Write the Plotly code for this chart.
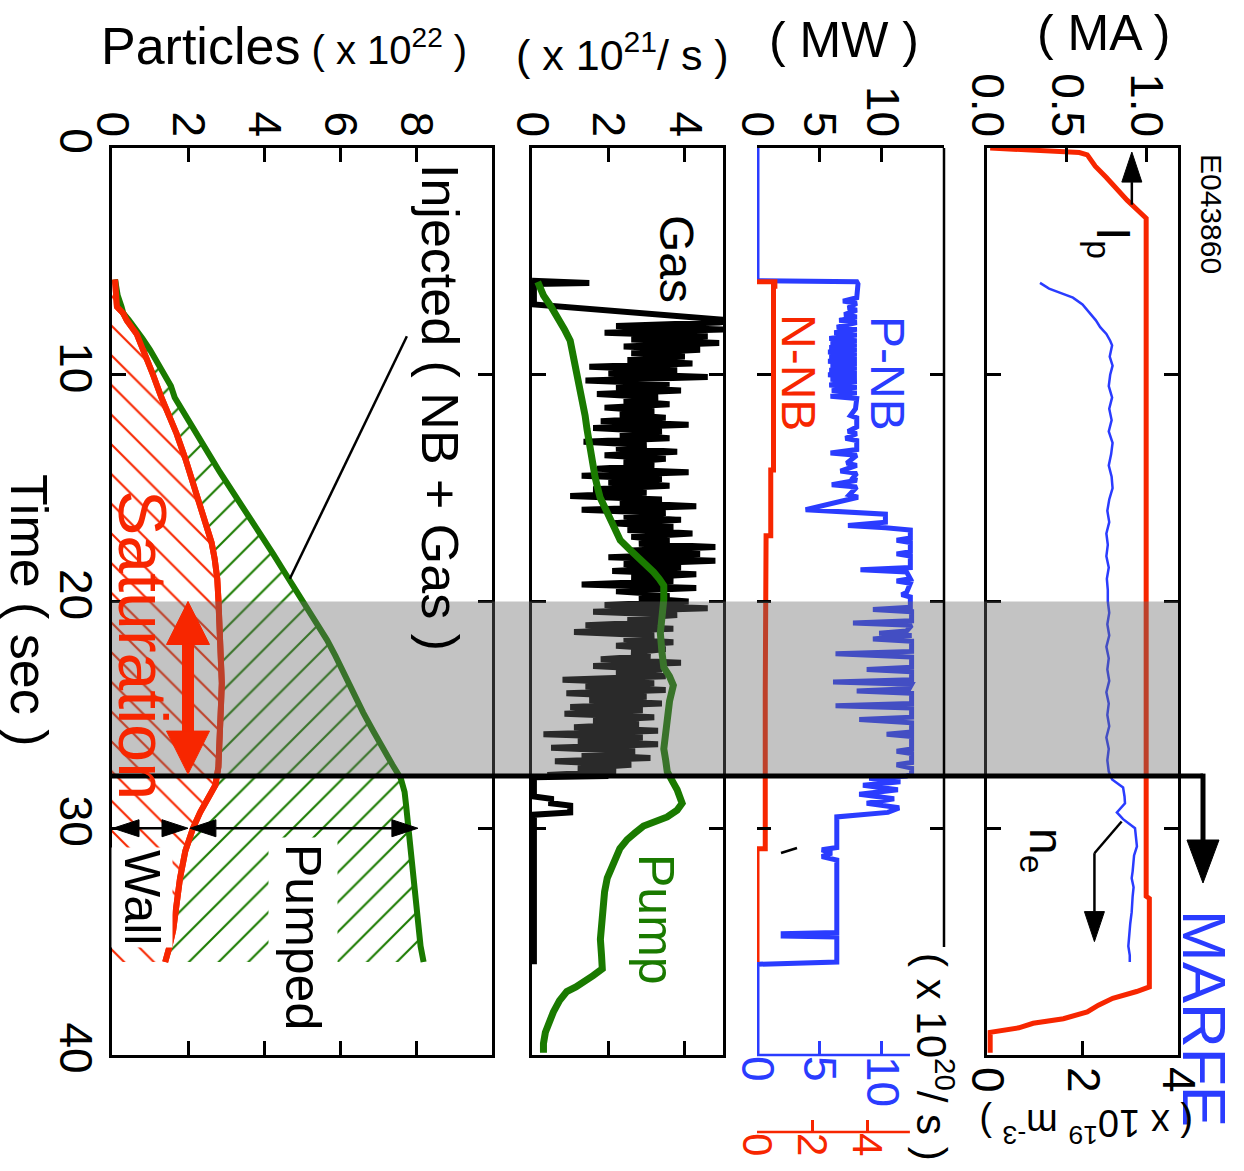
import plotly.graph_objects as go

W, H = 1244, 1171
FONT = "Liberation Sans, Arial, Helvetica, sans-serif"
RED = "#f72600"
BLUE = "#2a3cff"
GREEN = "#1a7a00"
BLACK = "#000000"

# ------------------------------------------------------------------ data
TIME_TICKS = [0, 10, 20, 30, 40]
PART_TICKS = [0, 2, 4, 6, 8]
GAS_TICKS = [0, 2, 4]
MW_TICKS = [0, 5, 10]
PNB_RATE_TICKS = [0, 5, 10]
NNB_RATE_TICKS = [0, 2, 4]
MA_TICKS = [0.0, 0.5, 1.0]
NE_TICKS = [0, 2, 4]

# plasma current (MA) vs time (s)
IP = [(0.0, 0.02), (0.2, 0.58), (0.3, 0.63), (0.8, 0.68), (1.3, 0.75), (1.8, 0.81),
      (2.3, 0.88), (2.7, 0.94), (3.0, 0.98), (3.1, 1.0), (33.0, 1.0), (33.1, 1.02),
      (37.0, 1.02), (37.2, 0.94), (37.5, 0.79), (37.8, 0.70), (38.1, 0.63), (38.4, 0.48),
      (38.6, 0.29), (38.8, 0.20), (39.0, 0.02), (39.9, 0.02)]

# line averaged density (1e19 m^-3)
NE = [(5.95, 1.11), (6.2, 1.30), (6.4, 1.55), (6.6, 1.80), (6.9, 2.00), (7.3, 2.16),
      (7.6, 2.28), (7.9, 2.37), (8.2, 2.50), (8.5, 2.58), (8.7, 2.62), (9.2, 2.57),
      (9.6, 2.63), (10.0, 2.58), (10.5, 2.55), (11.0, 2.62), (11.5, 2.56), (12.0, 2.61),
      (12.5, 2.55), (13.0, 2.63), (13.5, 2.60), (14.0, 2.55), (14.5, 2.61), (15.0, 2.63),
      (15.5, 2.56), (16.0, 2.52), (16.5, 2.56), (17.0, 2.50), (17.5, 2.53), (18.0, 2.50),
      (18.5, 2.55), (19.0, 2.51), (19.5, 2.53), (20.0, 2.53), (20.5, 2.56), (21.0, 2.52),
      (21.5, 2.56), (22.0, 2.50), (22.5, 2.55), (23.0, 2.52), (23.5, 2.56), (24.0, 2.50),
      (24.5, 2.55), (25.0, 2.52), (25.5, 2.56), (26.0, 2.50), (26.5, 2.55), (27.0, 2.52),
      (27.5, 2.55), (27.85, 2.62), (28.2, 2.85), (28.6, 2.88), (28.9, 2.89), (29.3, 2.72),
      (29.6, 2.85), (30.0, 3.10), (30.4, 3.12), (30.8, 3.14), (31.2, 3.08), (31.5, 3.07),
      (31.9, 3.05), (32.2, 3.03), (32.6, 3.07), (33.0, 3.05), (33.4, 3.04), (33.7, 3.03),
      (34.2, 3.00), (34.7, 2.98), (35.2, 2.96), (35.6, 2.99), (35.9, 2.99)]

# P-NB power (MW)
PNB = [(0.0, 0.0), (5.85, 0.0), (5.9, 8.0), (6.0, 8.1), (6.6, 8.0), (6.75, 6.9), (6.85, 8.0),
       (7.05, 7.3), (7.15, 8.0), (7.35, 7.0), (7.45, 8.0), (7.6, 6.6), (7.7, 8.0), (7.9, 6.4),
       (8.0, 8.0), (8.15, 6.2), (8.25, 8.0), (8.4, 5.8), (8.5, 8.0), (8.6, 5.9), (8.7, 8.0),
       (8.8, 5.8), (8.9, 8.0), (9.0, 5.7), (9.1, 8.0), (9.2, 5.8), (9.3, 8.0), (9.4, 5.7),
       (9.5, 8.0), (9.6, 5.9), (9.7, 8.0), (9.8, 5.8), (9.9, 8.0), (10.0, 5.7), (10.1, 8.0),
       (10.2, 5.9), (10.3, 8.0), (10.45, 5.8), (10.55, 8.0), (10.7, 6.0), (10.8, 8.0),
       (10.95, 5.9), (11.05, 8.0), (11.5, 7.9), (11.8, 7.5), (11.9, 8.0), (12.3, 8.0),
       (12.5, 7.3), (12.6, 8.0), (12.8, 7.1), (12.9, 8.0), (13.3, 8.0), (13.45, 5.9),
       (13.55, 8.0), (13.9, 7.2), (14.0, 8.0), (14.25, 6.7), (14.35, 8.0), (14.55, 7.7),
       (14.65, 8.0), (14.85, 6.0), (14.95, 8.0), (15.3, 7.4), (15.4, 8.1), (15.95, 3.9),
       (16.05, 8.2), (16.15, 10.3), (16.5, 10.3), (16.65, 7.3), (16.75, 10.3), (16.85, 12.3),
       (17.2, 12.3), (17.3, 11.2), (17.4, 12.3), (17.8, 12.3), (17.9, 11.2), (18.0, 12.3),
       (18.5, 12.3), (18.6, 8.3), (18.7, 12.0), (19.0, 12.3), (19.1, 11.2), (19.2, 12.3),
       (19.6, 12.0), (19.7, 11.6), (19.8, 12.3), (20.25, 12.3), (20.35, 9.3), (20.45, 12.4),
       (20.85, 12.4), (20.95, 7.7), (21.05, 12.4), (21.3, 12.0), (21.4, 9.8), (21.5, 12.4),
       (21.65, 9.3), (21.75, 12.4), (22.2, 12.4), (22.3, 6.3), (22.45, 12.4), (22.9, 12.4),
       (23.0, 8.8), (23.1, 12.4), (23.45, 12.4), (23.55, 6.1), (23.65, 12.4), (23.85, 12.2),
       (23.95, 8.0), (24.05, 12.4), (24.5, 12.4), (24.6, 6.3), (24.7, 12.4), (25.1, 12.4),
       (25.2, 8.2), (25.35, 12.4), (25.75, 12.4), (25.85, 10.4), (25.95, 12.4), (26.5, 12.4),
       (26.6, 11.2), (26.7, 12.4), (27.1, 12.4), (27.2, 11.2), (27.35, 12.4), (27.6, 12.4),
       (27.7, 12.0), (27.8, 9.0), (27.95, 11.5), (28.1, 8.5), (28.3, 11.3), (28.5, 8.2),
       (28.7, 11.0), (28.9, 8.8), (29.1, 11.4), (29.3, 10.5), (29.5, 6.4), (30.85, 6.4),
       (30.95, 5.2), (31.1, 6.0), (31.25, 5.2), (31.4, 6.4), (34.6, 6.4), (34.65, 2.1),
       (34.75, 2.1), (34.8, 6.4), (35.9, 6.4), (36.0, 0.0), (40.0, 0.0)]

# N-NB particle input (1e20 /s)
NNB = [(5.9, 0.0), (5.9, 0.65), (6.1, 0.65), (6.1, 0.6), (14.2, 0.6), (14.2, 0.5),
       (17.1, 0.5), (17.1, 0.33), (24.0, 0.3), (30.9, 0.3), (30.9, 0.0), (35.9, 0.0)]

# gas puff rate (1e21 /s)
GAS_HEAD = [(5.85, 0.0), (5.9, 1.5), (5.95, 1.5), (6.0, 0.05), (6.9, 0.05), (7.6, 5.2)]
GAS_T0, GAS_DT = 7.7, 0.15
GAS_V = [4.9, 2.2, 5.0, 1.9, 4.6, 2.6, 4.9, 2.4, 4.4, 2.6,
         4.0, 2.5, 4.2, 1.5, 3.8, 2.0, 4.6, 1.4, 3.6, 2.2,
         3.9, 1.7, 3.3, 2.4, 3.6, 1.9, 3.2, 2.3, 3.5, 1.8,
         4.1, 1.6, 3.4, 2.3, 3.6, 1.35, 3.0, 2.2, 3.8, 1.9,
         3.5, 2.4, 3.2, 1.7, 4.1, 1.3, 3.4, 2.0, 3.6, 1.6,
         3.0, 1.0, 3.4, 2.3, 4.3, 1.3, 3.5, 2.4, 3.9, 2.1,
         3.7, 2.5, 4.2, 2.6, 3.6, 2.8, 4.8, 2.6, 4.4, 2.0,
         4.8, 2.4, 3.9, 2.1, 4.3, 2.6, 3.7, 1.3, 4.3, 2.2,
         3.6, 2.8, 4.1, 1.9, 4.6, 1.6, 3.8, 2.5, 3.4, 1.4,
         3.7, 1.1, 3.2, 2.4, 3.7, 2.2, 3.5, 2.6, 3.1, 1.8,
         3.9, 1.6, 3.4, 2.2, 3.5, 0.8, 3.2, 1.4, 3.5, 0.9,
         3.0, 1.5, 3.4, 1.0, 2.9, 0.85, 3.2, 1.6, 2.8, 1.1,
         3.3, 0.3, 2.9, 1.2, 3.3, 0.5, 2.7, 1.3, 3.1, 0.6,
         2.6, 1.2, 2.2, 0.4]
GAS_TAIL = [(27.7, 2.0), (27.75, 0.05), (28.6, 0.05), (28.7, 0.5), (28.9, 0.5), (29.0, 1.0),
            (29.3, 1.0), (29.4, 0.05), (36.0, 0.05)]

# pumping rate (1e21 /s)
PUMP = [(5.9, 0.15), (6.5, 0.3), (7.0, 0.5), (7.5, 0.7), (8.0, 0.85), (8.5, 1.0), (8.9, 1.05),
        (9.6, 1.12), (10.4, 1.2), (11.1, 1.3), (11.8, 1.39), (12.4, 1.44), (12.9, 1.48),
        (13.7, 1.57), (14.5, 1.65), (15.0, 1.72), (15.4, 1.78), (15.9, 1.92), (16.4, 2.05),
        (16.9, 2.2), (17.3, 2.31), (17.7, 2.55), (18.0, 2.75), (18.4, 2.98), (18.7, 3.18),
        (19.0, 3.33), (19.3, 3.45), (19.9, 3.45), (20.6, 3.4), (21.4, 3.36), (22.2, 3.4),
        (22.9, 3.45), (23.3, 3.6), (23.7, 3.7), (24.4, 3.6), (25.1, 3.54), (25.8, 3.5),
        (26.5, 3.45), (27.0, 3.5), (27.5, 3.54), (28.0, 3.7), (28.3, 3.8), (28.9, 3.93),
        (29.2, 3.8), (29.5, 3.54), (29.7, 3.2), (29.9, 2.92), (30.2, 2.7), (30.5, 2.49),
        (30.9, 2.3), (31.4, 2.18), (31.8, 2.05), (32.2, 1.97), (32.8, 1.9), (33.4, 1.87),
        (34.2, 1.82), (34.9, 1.79), (35.6, 1.82), (36.2, 1.84), (36.5, 1.6), (36.7, 1.43),
        (37.0, 1.15), (37.2, 0.91), (37.6, 0.72), (38.1, 0.56), (38.5, 0.45), (39.0, 0.35),
        (39.5, 0.3), (39.9, 0.3)]

# particle balance (1e22)
INJECTED = [(5.8, 0.08), (6.5, 0.15), (7.0, 0.25), (7.3, 0.3), (7.6, 0.45), (8.0, 0.65),
            (8.4, 0.8), (8.9, 1.0), (9.5, 1.2), (10.1, 1.44), (10.5, 1.55), (11.0, 1.65),
            (11.8, 1.95), (12.6, 2.23), (13.5, 2.55), (14.3, 2.84), (15.2, 3.2), (16.1, 3.55),
            (17.0, 3.9), (17.9, 4.24), (18.6, 4.5), (19.3, 4.76), (19.9, 5.0), (20.8, 5.35),
            (21.7, 5.66), (22.4, 5.88), (23.1, 6.08), (24.0, 6.35), (24.9, 6.61), (25.7, 6.87),
            (26.5, 7.13), (27.2, 7.38), (27.8, 7.6), (28.4, 7.7), (29.0, 7.74), (30.0, 7.8),
            (31.0, 7.86), (32.2, 7.92), (33.3, 7.98), (34.5, 8.05), (35.2, 8.12), (35.9, 8.2)]
WALL = [(5.8, 0.08), (6.5, 0.1), (7.0, 0.13), (7.3, 0.3), (7.6, 0.39), (8.2, 0.65),
        (8.7, 0.78), (9.3, 0.92), (10.0, 1.08), (11.0, 1.3), (11.8, 1.5), (12.6, 1.7),
        (13.7, 1.93), (14.8, 2.13), (15.8, 2.33), (16.7, 2.5), (17.4, 2.62), (18.1, 2.7),
        (19.0, 2.77), (19.9, 2.8), (20.8, 2.83), (21.7, 2.85), (22.6, 2.88), (23.6, 2.89),
        (24.5, 2.87), (25.5, 2.84), (26.4, 2.82), (27.3, 2.8), (28.1, 2.72), (28.6, 2.55),
        (29.3, 2.32), (30.0, 2.13), (31.0, 1.93), (32.2, 1.79), (33.3, 1.7), (34.5, 1.61),
        (35.3, 1.5), (35.9, 1.4)]

SAT_START, MARFE_T = 20.0, 27.7
BALANCE_T = 30.0
WALL_END, PUMPED_START, PUMPED_END = 2.0, 2.05, 8.05

# ------------------------------------------------------------------ layout geometry
TOP, BOT = 148, 1055
P_X, G_X, W_X, A_X = (112, 492), (532, 723), (757, 944), (987, 1178)
T_RANGE = [40, 0]
R_PART, R_GAS, R_MW, R_PNBR, R_NNBR, R_MA, R_NE = [0, 10], [0, 5], [0, 15], [0, 15], [0, 6.8], [0, 1.2], [0, 4]


def fx(p):
    return p / W


def fy(p):
    return 1 - p / H


def tpx(t):
    return TOP + (t - T_RANGE[1]) / (T_RANGE[0] - T_RANGE[1]) * (BOT - TOP)


def vpx(v, rng, dom):
    return dom[0] + (v - rng[0]) / (rng[1] - rng[0]) * (dom[1] - dom[0])


def col(pairs, i):
    return [p[i] for p in pairs]


YDOM = [fy(BOT), fy(TOP)]
TICKFONT = dict(family=FONT, size=46, color=BLACK)

fig = go.Figure()

# particles panel
fig.add_trace(go.Scatter(x=col(WALL, 1), y=col(WALL, 0), xaxis="x", yaxis="y", mode="lines",
                         line=dict(color=RED, width=6), fill="tozerox", fillcolor="rgba(0,0,0,0)",
                         fillpattern=dict(shape="\\", fgcolor=RED, bgcolor="rgba(0,0,0,0)",
                                          size=21, solidity=0.1, fillmode="replace")))
fig.add_trace(go.Scatter(x=col(INJECTED, 1), y=col(INJECTED, 0), xaxis="x", yaxis="y", mode="lines",
                         line=dict(color=GREEN, width=6), fill="tonextx", fillcolor="rgba(0,0,0,0)",
                         fillpattern=dict(shape="/", fgcolor=GREEN, bgcolor="rgba(0,0,0,0)",
                                          size=21, solidity=0.1, fillmode="replace")))
fig.add_trace(go.Scatter(x=col(WALL, 1), y=col(WALL, 0), xaxis="x", yaxis="y", mode="lines",
                         line=dict(color=RED, width=6)))

# gas / pump panel
gas_t = col(GAS_HEAD, 0) + [round(GAS_T0 + GAS_DT * i, 3) for i in range(len(GAS_V))] + col(GAS_TAIL, 0)
gas_v = col(GAS_HEAD, 1) + GAS_V + col(GAS_TAIL, 1)
fig.add_trace(go.Scatter(x=gas_v, y=gas_t, xaxis="x2", yaxis="y2", mode="lines",
                         line=dict(color=BLACK, width=6)))
fig.add_trace(go.Scatter(x=col(PUMP, 1), y=col(PUMP, 0), xaxis="x2", yaxis="y2", mode="lines",
                         line=dict(color=GREEN, width=7)))

# NB panel
fig.add_trace(go.Scatter(x=col(PNB, 1), y=col(PNB, 0), xaxis="x3", yaxis="y3", mode="lines",
                         line=dict(color=BLUE, width=5)))
fig.add_trace(go.Scatter(x=[None], y=[None], xaxis="x4", yaxis="y3", mode="lines"))
fig.add_trace(go.Scatter(x=col(NNB, 1), y=col(NNB, 0), xaxis="x5", yaxis="y3", mode="lines",
                         line=dict(color=RED, width=5)))

# Ip / ne panel
fig.add_trace(go.Scatter(x=col(IP, 1), y=col(IP, 0), xaxis="x6", yaxis="y4", mode="lines",
                         line=dict(color=RED, width=5)))
fig.add_trace(go.Scatter(x=col(NE, 1), y=col(NE, 0), xaxis="x7", yaxis="y4", mode="lines",
                         line=dict(color=BLUE, width=2.5)))

common = dict(showgrid=False, zeroline=False, ticks="inside", ticklen=14, tickwidth=2.5,
              linewidth=2.5, linecolor=BLACK, tickcolor=BLACK, tickfont=TICKFONT,
              automargin=False)


def xaxis(dom, rng, tickvals, side="top", anchor=None, **kw):
    d = dict(common)
    d.update(domain=[fx(dom[0]), fx(dom[1])], range=rng, tickvals=tickvals, side=side,
             tickangle=90, showline=True)
    if anchor:
        d["anchor"] = anchor
    d.update(kw)
    return d


def yaxis(anchor, labels=False, **kw):
    d = dict(common)
    d.update(domain=YDOM, range=T_RANGE, tickvals=TIME_TICKS, anchor=anchor, showline=True,
             mirror="ticks", showticklabels=labels, tickangle=90)
    d.update(kw)
    return d


layout_axes = dict(
    xaxis=xaxis(P_X, R_PART, PART_TICKS, anchor="y", mirror="ticks", ticklabelstandoff=-8),
    yaxis=yaxis("x", labels=True, ticklabelstandoff=-6),
    xaxis2=xaxis(G_X, R_GAS, GAS_TICKS, anchor="y2", mirror="ticks", ticklabelstandoff=-8),
    yaxis2=yaxis("x2"),
    xaxis3=xaxis(W_X, R_MW, MW_TICKS, anchor="y3", ticklabelstandoff=-8),
    yaxis3=yaxis("x3", showline=False),
    xaxis4=xaxis(W_X, R_PNBR, PNB_RATE_TICKS, side="bottom", anchor="y3", overlaying="x3",
                 showline=False, tickcolor=BLUE, tickfont=dict(family=FONT, size=46, color=BLUE)),
    xaxis5=xaxis(W_X, R_NNBR, NNB_RATE_TICKS, side="bottom", anchor="free", overlaying="x3",
                 position=fy(1132), showline=False, tickcolor=RED, ticklen=12,
                 tickfont=dict(family=FONT, size=42, color=RED)),
    xaxis6=xaxis(A_X, R_MA, MA_TICKS, anchor="y4", tickformat=".1f", ticklabelstandoff=-8),
    yaxis4=yaxis("x6"),
    xaxis7=xaxis(A_X, R_NE, NE_TICKS, side="bottom", anchor="y4", overlaying="x6"),
)

shapes = []


def line(x0, y0, x1, y1, color=BLACK, width=2.5):
    shapes.append(dict(type="line", xref="paper", yref="paper", x0=fx(x0), y0=fy(y0),
                       x1=fx(x1), y1=fy(y1), line=dict(color=color, width=width), layer="above"))


def head(tx, ty, bx, by, hw, color=BLACK):
    dx, dy = tx - bx, ty - by
    L = (dx * dx + dy * dy) ** 0.5
    nx, ny = -dy / L * hw / 2, dx / L * hw / 2
    pts = [(tx, ty), (bx + nx, by + ny), (bx - nx, by - ny)]
    path = "M " + " L ".join(f"{fx(a):.5f},{fy(b):.5f}" for a, b in pts) + " Z"
    shapes.append(dict(type="path", xref="paper", yref="paper", path=path, fillcolor=color,
                       line=dict(color=color, width=1), layer="above"))


def arrow(x0, y0, x1, y1, hl, hw, color=BLACK, width=2.5, both=False):
    dx, dy = x1 - x0, y1 - y0
    L = (dx * dx + dy * dy) ** 0.5
    ux, uy = dx / L, dy / L
    bx1, by1 = x1 - ux * hl, y1 - uy * hl
    sx, sy = (x0 + ux * hl, y0 + uy * hl) if both else (x0, y0)
    line(sx, sy, bx1, by1, color, width)
    head(x1, y1, bx1, by1, hw, color)
    if both:
        head(x0, y0, sx, sy, hw, color)


# saturation band
shapes.append(dict(type="rect", xref="paper", yref="y", x0=fx(P_X[0]), x1=fx(A_X[1]),
                   y0=SAT_START, y1=MARFE_T, fillcolor="rgba(105,105,105,0.40)",
                   line=dict(width=0), layer="above"))

# NB panel partial frame
line(W_X[1], TOP, W_X[1], 947)
line(W_X[0], BOT, vpx(12.27, R_PNBR, W_X), BOT, BLUE, 2.5)
line(W_X[0], 1132, vpx(5.56, R_NNBR, W_X), 1132, RED, 2.5)
line(781, 853, 797, 848, BLACK, 2.5)

# MARFE line + arrow
ym = tpx(MARFE_T)
line(P_X[0], ym, 1203, ym, BLACK, 5)
arrow(1203, ym - 2.5, 1203, 883, 43, 32, BLACK, 5)

# Ip arrow
arrow(vpx(0.91, R_MA, A_X), tpx(2.5), vpx(0.91, R_MA, A_X), tpx(0.18), 30, 20)
# ne leader
line(vpx(2.82, R_NE, A_X), tpx(29.7), vpx(2.25, R_NE, A_X), tpx(31.1))
arrow(vpx(2.25, R_NE, A_X), tpx(31.1), vpx(2.25, R_NE, A_X), tpx(35.0), 30, 20)

# saturation double arrow
arrow(vpx(2.0, R_PART, P_X), tpx(SAT_START), vpx(2.0, R_PART, P_X), tpx(MARFE_T) - 2, 43, 43,
      RED, 12, both=True)
# wall / pumped arrows
yb = tpx(BALANCE_T)
arrow(vpx(0.0, R_PART, P_X) + 1, yb, vpx(WALL_END, R_PART, P_X), yb, 26, 17, BLACK, 2.5, both=True)
arrow(vpx(PUMPED_START, R_PART, P_X), yb, vpx(PUMPED_END, R_PART, P_X), yb, 26, 17, BLACK, 2.5,
      both=True)
# injected leader
line(vpx(7.76, R_PART, P_X), tpx(8.3), vpx(4.68, R_PART, P_X), tpx(19.0))

annotations = []


def ann(text, x, y, size, color=BLACK, angle=90, bg=None, pad=0):
    annotations.append(dict(text=text, x=fx(x), y=fy(y), xref="paper", yref="paper",
                            showarrow=False, textangle=angle, xanchor="center", yanchor="middle",
                            font=dict(family=FONT, size=size, color=color),
                            bgcolor=bg if bg else "rgba(0,0,0,0)", borderpad=pad))


ann("Particles<span style='font-size:40px'> ( x 10<sup>22</sup> )</span>", 284, 46, 52, angle=0)
ann("( x 10<sup>21</sup>/ s )", 622, 52, 43, angle=0)
ann("( MW )", 844, 40, 50, angle=0)
ann("( MA )", 1103, 33, 50, angle=0)
ann("E043860", 1211, 214, 30)
ann("I<sub>p</sub>", 1110, 243, 48)
ann("n<sub>e</sub>", 1043, 850, 48)
ann("MARFE", 1205, 1018, 62, BLUE)
ann("P-NB", 888, 373, 48, BLUE)
ann("N-NB", 799, 372, 48, RED)
ann("( x 10<sup>20</sup>/ s )", 935, 1057, 42)
ann("( x 10<sup>19</sup> m<sup>-3</sup> )", 1086, 1126, 38, angle=180)
ann("Gas", 676, 259, 48)
ann("Pump", 656, 920, 50, GREEN)
ann("Injected ( NB + Gas )", 440, 407, 52)
ann("Saturation", 143, 645, 68, RED)
ann("Wall", 142, 897, 50, bg="white", pad=2)
ann("Pumped", 303, 937, 50, bg="white", pad=6)
ann("Time ( sec )", 29, 610, 52)

fig.update_layout(width=W, height=H, margin=dict(l=0, r=0, t=0, b=0, autoexpand=False),
                  showlegend=False, plot_bgcolor="white", paper_bgcolor="white", shapes=shapes,
                  annotations=annotations, font=dict(family=FONT), **layout_axes)

fig.write_html("out.html")
